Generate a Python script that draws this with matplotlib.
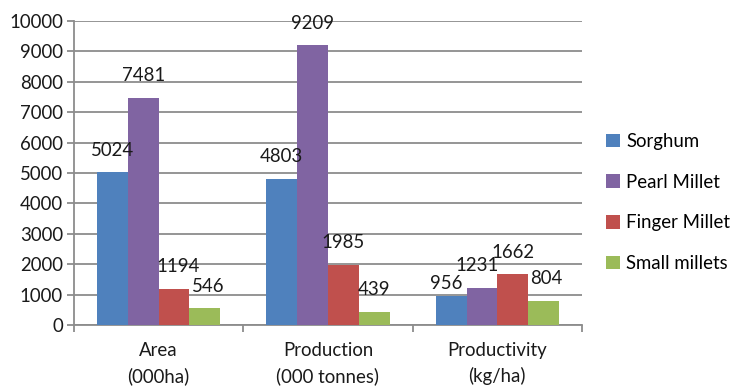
import matplotlib
matplotlib.use("Agg")
import matplotlib.pyplot as plt
import numpy as np

categories = ["Area\n(000ha)", "Production\n(000 tonnes)", "Productivity\n(kg/ha)"]
series_names = ["Sorghum", "Pearl Millet", "Finger Millet", "Small millets"]
sorghum = [5024, 4803, 956]
pearl_millet = [7481, 9209, 1231]
finger_millet = [1194, 1985, 1662]
small_millets = [546, 439, 804]
colors = ["#4F81BD", "#8064A2", "#C0504D", "#9BBB59"]
y_ticks = [0, 1000, 2000, 3000, 4000, 5000, 6000, 7000, 8000, 9000, 10000]

# small nudges (in pixels) for crowded data labels: (series, category) -> (dx, dy)
label_nudge = {(0, 2): (-5, -10), (1, 2): (-5, 0), (3, 2): (3, 0),
               (2, 0): (4, 0), (3, 0): (3, 0)}

plt.rcParams["font.family"] = ["Lato", "DejaVu Sans"]
FS = 13.4
grid_col = "#8C8C8C"
PX = 72 / 100  # points per pixel

fig = plt.figure(figsize=(7.37, 3.87), dpi=100)
ax = fig.add_axes([74 / 737, 62 / 387, 508 / 737, 304 / 387])

series = [sorghum, pearl_millet, finger_millet, small_millets]
x = np.arange(len(categories))
bw = 0.182
handles = []
for i, (vals, name, col) in enumerate(zip(series, series_names, colors)):
    pos = x + (i - 1.5) * bw
    bars = ax.bar(pos, vals, width=bw, color=col, label=name, zorder=3)
    handles.append(bars)
    for j, (px, v) in enumerate(zip(pos, vals)):
        dx, dy = label_nudge.get((i, j), (0, 0))
        ax.annotate(str(v), (px, v), xytext=(dx * PX, (22 + dy) * PX),
                    textcoords="offset points", ha="center", va="center",
                    fontsize=FS, color="#1a1a1a", zorder=4)

ax.set_xlim(-0.5, len(categories) - 0.5)
ax.set_ylim(0, 10000)
ax.set_yticks(y_ticks)
ax.set_yticklabels([str(t) for t in y_ticks], fontsize=FS, color="#1a1a1a")
ax.yaxis.grid(True, color=grid_col, linewidth=1.3, zorder=0)
ax.set_axisbelow(True)

ax.set_xticks(x)
ax.set_xticklabels(categories, fontsize=FS, color="#1a1a1a", linespacing=1.5)
ax.set_xticks(np.arange(-0.5, len(categories)), minor=True)
ax.tick_params(axis="x", which="major", length=0, pad=12.5)
ax.tick_params(axis="x", which="minor", length=5, width=1.3, color=grid_col)
ax.tick_params(axis="y", length=5, width=1.3, color=grid_col, pad=3)

for s in ["top", "right"]:
    ax.spines[s].set_visible(False)
for s in ["left", "bottom"]:
    ax.spines[s].set_color(grid_col)
    ax.spines[s].set_linewidth(1.3)

fig.legend(handles=handles, labels=series_names, loc="center left",
           bbox_to_anchor=(606 / 737, 1 - 202.5 / 387), frameon=False,
           fontsize=FS, handlelength=0.75, handleheight=0.75, handletextpad=0.35,
           labelspacing=1.27, borderpad=0, borderaxespad=0)

fig.savefig("out.png", dpi=100)
